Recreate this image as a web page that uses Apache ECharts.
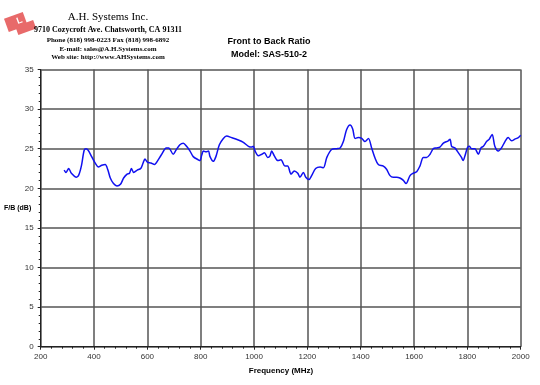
<!DOCTYPE html>
<html>
<head>
<meta charset="utf-8">
<script src="https://cdn.jsdelivr.net/npm/echarts@6/dist/echarts.min.js"></script>
<style>html,body{margin:0;padding:0;background:#fff}#c{width:540px;height:385px}</style>
</head>
<body>
<div id="c"></div>
<script>
const freqMHz = [288,295,305,315,334,343,353,363,370,378,391,404,416,429,442,452,461,473,486,499,511,524,533,540,549,562,575,584,591,600,613,627,633,652,671,680,697,707,722,735,747,760,772,791,797,804,810,820,829,835,847,857,870,885,897,916,941,960,979,991,997,1004,1016,1029,1039,1051,1060,1066,1076,1089,1101,1116,1126,1139,1151,1164,1172,1185,1194,1206,1216,1231,1248,1260,1273,1291,1310,1323,1335,1347,1360,1370,1379,1391,1404,1416,1429,1441,1454,1466,1485,1497,1510,1522,1535,1547,1560,1570,1585,1597,1610,1622,1635,1647,1660,1672,1685,1697,1710,1728,1735,1741,1753,1766,1778,1784,1791,1800,1807,1816,1828,1841,1851,1860,1872,1882,1893,1903,1916,1928,1941,1953,1966,1978,1991,2000];
const fbRatio = [22.3,22.0,22.5,21.9,21.4,21.7,22.9,24.8,25.0,24.8,24.0,23.2,22.7,22.9,23.0,22.3,21.3,20.6,20.3,20.5,21.3,21.8,21.9,22.5,22.0,22.3,22.5,23.2,23.7,23.3,23.2,23.0,23.2,24.2,25.1,25.1,24.3,24.8,25.5,25.7,25.3,24.7,24.0,23.6,23.5,24.2,24.7,24.6,24.7,24.0,23.4,24.0,25.5,26.3,26.6,26.4,26.1,25.8,25.3,25.2,25.3,24.7,24.1,24.3,24.5,23.9,24.1,24.7,24.1,23.5,23.6,22.8,22.8,21.8,22.2,21.9,21.4,22.0,21.4,21.1,21.6,22.5,22.7,22.6,23.9,24.9,25.0,25.1,25.9,27.4,28.0,27.5,26.3,26.4,26.3,25.9,26.3,25.1,23.8,23.0,22.8,22.4,21.6,21.4,21.4,21.3,21.0,20.6,21.6,21.9,22.1,22.8,23.9,23.9,24.3,25.0,25.1,25.2,25.7,26.0,26.2,25.3,25.1,24.5,23.9,23.5,24.1,25.1,25.3,25.0,25.0,24.3,25.1,25.3,25.9,26.2,26.8,25.3,24.7,25.1,25.9,26.4,26.0,26.2,26.4,26.7];
const xTicks = {min: 200, max: 2000, step: 200};
const yTicks = {min: 0, max: 35, step: 5};
const titleLines = ['Front to Back Ratio', 'Model: SAS-510-2'];
const companyLines = ['A.H. Systems Inc.', '9710 Cozycroft Ave. Chatsworth, CA 91311', 'Phone (818) 998-0223 Fax (818) 998-6892', 'E-mail: sales@A.H.Systems.com', 'Web site: http://www.AHSystems.com'];
const xName = 'Frequency (MHz)';
const yName = 'F/B (dB)';

const chart = echarts.init(document.getElementById('c'), null, {renderer: 'canvas'});
const sans = 'Liberation Sans, Arial, sans-serif';
const serif = 'Liberation Serif, Times New Roman, serif';
chart.setOption({
  animation: false,
  backgroundColor: '#fff',
  grid: {left: 40.7, right: 19.3, top: 69.5, bottom: 38.3, containLabel: false},
  xAxis: {
    type: 'value', min: xTicks.min, max: xTicks.max, interval: xTicks.step,
    axisLine: {lineStyle: {color: '#222', width: 1}},
    axisTick: {show: true, inside: false, length: 3, lineStyle: {color: '#222'}},
    minorTick: {show: true, splitNumber: 5, length: 2, lineStyle: {color: '#222'}},
    axisLabel: {fontFamily: sans, fontSize: 8, color: '#333', margin: 6, formatter: v => String(v)},
    splitLine: {show: true, lineStyle: {color: '#555', width: 1.5}}
  },
  yAxis: {
    type: 'value', min: yTicks.min, max: yTicks.max, interval: yTicks.step,
    axisLine: {show: true, lineStyle: {color: '#222', width: 1}},
    axisTick: {show: true, length: 3, lineStyle: {color: '#222'}},
    minorTick: {show: true, splitNumber: 5, length: 2, lineStyle: {color: '#222'}},
    axisLabel: {fontFamily: sans, fontSize: 8, color: '#333', margin: 7, formatter: v => String(v)},
    splitLine: {show: true, lineStyle: {color: '#555', width: 1.5}}
  },
  series: [{
    type: 'line',
    data: freqMHz.map((f, i) => [f, fbRatio[i]]),
    showSymbol: false,
    smooth: 0.3,
    lineStyle: {color: '#1010f0', width: 1.5},
    itemStyle: {color: '#1010f0'}
  }],
  graphic: [
    {type: 'group', left: 4, top: 12, children: [
      {type: 'rect', rotation: 0.35, x: 13, y: 13, shape: {x: -11, y: -9, width: 20, height: 14}, style: {fill: '#e86a6a'}},
      {type: 'rect', rotation: 0.35, x: 13, y: 13, shape: {x: -3, y: 2, width: 19, height: 9}, style: {fill: '#e86a6a'}},
      {type: 'text', rotation: 0.35, x: 11, y: 7, style: {text: 'L', fill: '#fff', font: 'bold 9px ' + sans}}
    ]},
    {type: 'text', x: 108, y: 12, style: {text: companyLines[0], fill: '#000', font: '11px ' + serif, textAlign: 'center'}},
    {type: 'text', x: 108, y: 26, style: {text: companyLines[1], fill: '#000', font: 'bold 8px ' + serif, textAlign: 'center'}},
    {type: 'text', x: 108, y: 37, style: {text: companyLines[2], fill: '#000', font: 'bold 7px ' + serif, textAlign: 'center'}},
    {type: 'text', x: 108, y: 46, style: {text: companyLines[3], fill: '#000', font: 'bold 7px ' + serif, textAlign: 'center'}},
    {type: 'text', x: 108, y: 54, style: {text: companyLines[4], fill: '#000', font: 'bold 7px ' + serif, textAlign: 'center'}},
    {type: 'text', x: 269, y: 37, style: {text: titleLines[0], fill: '#000', font: 'bold 9px ' + sans, textAlign: 'center'}},
    {type: 'text', x: 269, y: 50, style: {text: titleLines[1], fill: '#000', font: 'bold 9px ' + sans, textAlign: 'center'}},
    {type: 'text', x: 281, y: 367, style: {text: xName, fill: '#000', font: 'bold 8px ' + sans, textAlign: 'center'}},
    {type: 'text', x: 4, y: 205, style: {text: yName, fill: '#000', font: 'bold 7px ' + sans, textAlign: 'left'}}
  ]
});
</script>
</body>
</html>
